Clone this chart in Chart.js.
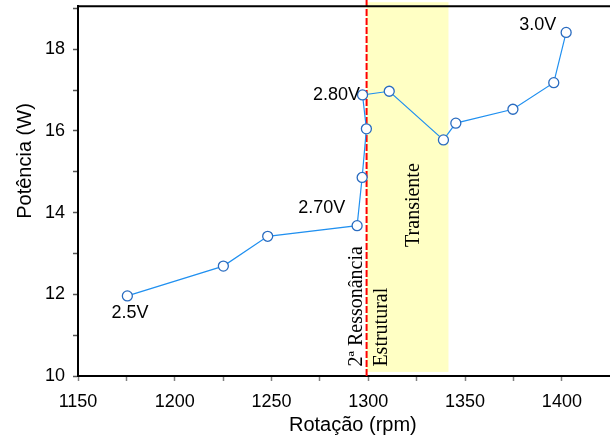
<!DOCTYPE html>
<html>
<head>
    <script src="https://cdn.jsdelivr.net/npm/chart.js@4.4.0/dist/chart.umd.min.js"></script>
    <title>Potência x Rotação</title>
    <style>
        body { margin: 0; overflow: hidden; background: white; }
        #graph-area { width: 634px; height: 438px; }
    </style>
</head>
<body>
<div id="graph-area">
<canvas id="myChart" width="634" height="438"></canvas>
</div>

<script>
    var rotacao = [1175.5, 1225.1, 1248, 1294.2, 1296.8, 1299, 1297, 1310.8, 1338.8, 1345.2, 1374.7, 1395.8, 1402.2];
    var potencia = [11.96, 12.69, 13.42, 13.68, 14.86, 16.05, 16.88, 16.97, 15.78, 16.19, 16.53, 17.18, 18.41];

    var xTicks = [1150, 1175, 1200, 1225, 1250, 1275, 1300, 1325, 1350, 1375, 1400];
    var xTickLabels = [1150, 1200, 1250, 1300, 1350, 1400];
    var yTicks = [10, 11, 12, 13, 14, 15, 16, 17, 18, 19];
    var yTickLabels = [10, 12, 14, 16, 18];
    var yTitulo = 'Potência (W)';

    // tensões escritas ao lado da curva
    var tensaoTexto = ['2.5V', '2.70V', '2.80V', '3.0V'];
    var tensaoRotacao = [1176.9, 1275.9, 1283.5, 1387.5];
    var tensaoPotencia = [11.54, 14.11, 16.89, 18.58];

    // faixa transiente e linha da ressonância
    var ressonancia = 1299.1;
    var faixaInicio = 1299.1;
    var faixaFim = 1341.4;
    var faixaBaixo = 10.1;
    var faixaTopo = 19.15;

    // textos verticais
    var vertTexto = ['2\u00aa Resson\u00e2ncia', 'Estrutural', 'Transiente'];
    var vertRotacao = [1296.6, 1309.5, 1326];
    var vertPotencia = [10.23, 10.23, 13.16];

    var pontos = [];
    for (var i = 0; i < rotacao.length; i++) {
        pontos.push({x: rotacao[i], y: potencia[i]});
    }

    var fundo = {
        id: 'fundo',
        beforeDatasetsDraw: function(chart) {
            var ctx = chart.ctx;
            var xs = chart.scales.x;
            var ys = chart.scales.y;
            ctx.save();
            // faixa amarela
            var x1 = xs.getPixelForValue(faixaInicio);
            var x2 = xs.getPixelForValue(faixaFim);
            var y1 = ys.getPixelForValue(faixaTopo);
            var y2 = ys.getPixelForValue(faixaBaixo);
            ctx.fillStyle = 'rgb(255,255,196)';
            ctx.fillRect(x1, y1, x2 - x1, y2 - y1);

            // textos verticais
            ctx.fillStyle = '#000';
            ctx.font = '20px "Liberation Serif", "Times New Roman", serif';
            ctx.textAlign = 'left';
            ctx.textBaseline = 'alphabetic';
            for (var k = 0; k < vertTexto.length; k++) {
                ctx.save();
                ctx.translate(xs.getPixelForValue(vertRotacao[k]), ys.getPixelForValue(vertPotencia[k]));
                ctx.rotate(-Math.PI / 2);
                ctx.fillText(vertTexto[k], 0, 0);
                ctx.restore();
            }

            // linha vermelha tracejada
            var xr = xs.getPixelForValue(ressonancia);
            ctx.strokeStyle = '#ff0000';
            ctx.lineWidth = 2;
            ctx.setLineDash([7, 2]);
            ctx.beginPath();
            ctx.moveTo(xr, 0);
            ctx.lineTo(xr, chart.chartArea.bottom);
            ctx.stroke();
            ctx.restore();
        },
        afterDraw: function(chart) {
            var ctx = chart.ctx;
            var xs = chart.scales.x;
            var ys = chart.scales.y;
            var area = chart.chartArea;
            ctx.save();
            // borda de cima
            ctx.strokeStyle = '#000';
            ctx.lineWidth = 2;
            ctx.beginPath();
            ctx.moveTo(area.left - 1, area.top);
            ctx.lineTo(area.right, area.top);
            ctx.stroke();

            ctx.fillStyle = '#000';
            ctx.font = '18px "Liberation Sans", Arial, sans-serif';
            ctx.textAlign = 'center';
            ctx.textBaseline = 'middle';
            for (var k = 0; k < tensaoTexto.length; k++) {
                ctx.fillText(tensaoTexto[k], xs.getPixelForValue(tensaoRotacao[k]), ys.getPixelForValue(tensaoPotencia[k]));
            }

            // título do eixo y (no original fica acima do centro)
            ctx.font = '20px "Liberation Sans", Arial, sans-serif';
            ctx.translate(25, 161);
            ctx.rotate(-Math.PI / 2);
            ctx.fillText(yTitulo, 0, 0);
            ctx.restore();
        }
    };

    var fonte = { family: '"Liberation Sans", Arial, sans-serif', size: 18 };

    var ctx = document.getElementById('myChart').getContext('2d');
    var myChart = new Chart(ctx, {
        type: 'scatter',
        data: {
            datasets: [
                {
                    data: pontos,
                    showLine: true,
                    borderColor: '#2090f0',
                    borderWidth: 1.2,
                    pointRadius: 5,
                    pointBorderWidth: 1.3,
                    pointBackgroundColor: '#ffffff',
                    pointBorderColor: '#2a6cc0'
                },
            ]
        },
        options: {
            responsive: false,
            animation: false,
            devicePixelRatio: 1,
            layout: { padding: { top: 6, right: 0, left: 0, bottom: 0 } },
            plugins: {
                legend: { display: false },
                tooltip: { enabled: false }
            },
            scales: {
                x: {
                    type: 'linear',
                    min: 1150,
                    max: 1434,
                    afterBuildTicks: function(s) {
                        s.ticks = xTicks.map(function(v) { return {value: v}; });
                    },
                    afterFit: function(s) {
                        s.height = 62;
                        s.paddingLeft = 0;
                        s.paddingRight = 0;
                    },
                    ticks: {
                        autoSkip: false,
                        maxRotation: 0,
                        padding: 10,
                        color: '#000',
                        font: fonte,
                        callback: function(v) { return xTickLabels.indexOf(v) >= 0 ? v : ''; }
                    },
                    grid: { drawOnChartArea: false, drawTicks: true, tickLength: 5, tickColor: '#808080', tickWidth: 1.5 },
                    border: { color: '#000', width: 2 },
                    title: {
                        display: true,
                        text: 'Rotação (rpm)',
                        color: '#000',
                        font: { family: '"Liberation Sans", Arial, sans-serif', size: 20 },
                        padding: { top: 0, bottom: 1 }
                    }
                },
                y: {
                    min: 10,
                    max: 19.05,
                    afterBuildTicks: function(s) {
                        s.ticks = yTicks.map(function(v) { return {value: v}; });
                    },
                    afterFit: function(s) {
                        s.width = 78;
                        s.paddingTop = 0;
                        s.paddingBottom = 0;
                    },
                    ticks: {
                        autoSkip: false,
                        padding: 8,
                        color: '#000',
                        font: fonte,
                        callback: function(v) { return yTickLabels.indexOf(v) >= 0 ? v : ''; }
                    },
                    grid: { drawOnChartArea: false, drawTicks: true, tickLength: 5, tickColor: '#555', tickWidth: 1.5 },
                    border: { color: '#000', width: 2 }
                }
            }
        },
        plugins: [fundo]
    });
</script>

</body>
</html>
